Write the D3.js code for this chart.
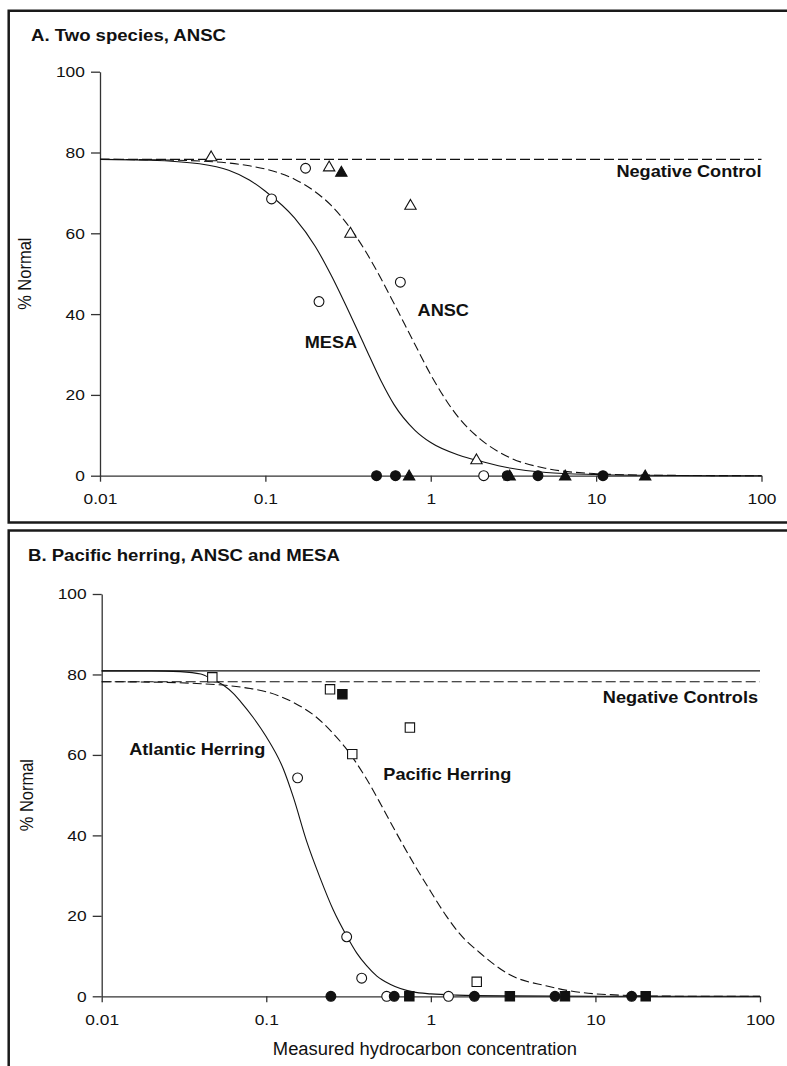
<!DOCTYPE html>
<html>
<head>
<meta charset="utf-8">
<script src="https://cdn.jsdelivr.net/npm/d3@7"></script>
<style>
  html, body { margin: 0; padding: 0; background: #fff; }
  svg { display: block; }
  text { font-family: "Liberation Sans", Arial, sans-serif; fill: #111; }
</style>
</head>
<body>
<svg id="chart" width="787" height="1066"></svg>
<script>
// ---- axis ticks ----
const xTickValues = [0.01, 0.1, 1, 10, 100];
const xTickLabels = ["0.01", "0.1", "1", "10", "100"];
const yTickValues = [0, 20, 40, 60, 80, 100];

// ---- Panel A: Two species, ANSC ----
// [concentration, % normal]
const aTriOpen   = [[0.047, 79.0], [0.243, 76.5], [0.327, 60.1], [0.754, 67.0], [1.89, 4.0]];
const aTriFilled = [[0.288, 75.2], [0.74, 0], [3.0, 0], [6.5, 0], [19.8, 0]];
const aCircOpen  = [[0.109, 68.5], [0.175, 76.1], [0.211, 43.1], [0.655, 47.9], [2.09, 0]];
const aCircFilled = [[0.47, 0], [0.612, 0], [2.9, 0], [4.45, 0], [11.0, 0]];
const aControl = 78.3;
// fitted response curves
const aMesaCurve = [[0.01, 78.3], [0.02, 78.1], [0.04, 77.2], [0.06, 75.6], [0.08, 73.2], [0.1, 70.4],
  [0.15, 63.8], [0.2, 56.8], [0.25, 49.6], [0.3, 43.0], [0.4, 32.0], [0.5, 23.5], [0.6, 17.6],
  [0.8, 11.3], [1.0, 8.2], [1.5, 5.0], [2, 3.6], [3, 1.9], [5, 0.8], [10, 0.3], [20, 0.1], [50, 0], [100, 0]];
const aAnscCurve = [[0.01, 78.3], [0.02, 78.2], [0.04, 77.9], [0.06, 77.4], [0.08, 76.7], [0.1, 75.9],
  [0.15, 73.4], [0.2, 70.3], [0.25, 66.9], [0.3, 63.2], [0.4, 55.8], [0.5, 48.8], [0.6, 42.6],
  [0.8, 32.6], [1.0, 25.0], [1.5, 14.0], [2, 9.0], [3, 4.5], [5, 1.8], [10, 0.5], [20, 0.15], [50, 0.03], [100, 0]];

// ---- Panel B: Pacific herring, ANSC and MESA ----
const bSqOpen   = [[0.047, 79.3], [0.244, 76.3], [0.333, 60.2], [0.746, 66.8], [1.90, 3.6]];
const bSqFilled = [[0.29, 75.1], [0.74, 0], [3.02, 0], [6.53, 0], [20.2, 0]];
const bCircOpen  = [[0.155, 54.3], [0.308, 14.8], [0.38, 4.5], [0.539, 0], [1.28, 0]];
const bCircFilled = [[0.247, 0], [0.599, 0], [1.84, 0], [5.68, 0], [16.6, 0]];
const bControlAtlantic = 80.9;
const bControlPacific = 78.2;
const bAtlanticCurve = [[0.01, 80.9], [0.02, 80.9], [0.03, 80.7], [0.04, 80.1], [0.047, 78.8], [0.055, 77.3],
  [0.063, 75.3], [0.07, 73.2], [0.0833, 69.3], [0.1, 64.5], [0.127, 56.5], [0.146, 49.5], [0.176, 38.5],
  [0.212, 29.5], [0.255, 21.5], [0.308, 15.0], [0.354, 10.8], [0.407, 7.6], [0.47, 5.0], [0.565, 3.0],
  [0.78, 1.1], [1.0, 0.6], [1.44, 0.3], [3, 0.1], [10, 0], [100, 0]];
const bPacificCurve = [[0.01, 78.2], [0.02, 78.1], [0.04, 77.7], [0.06, 77.2], [0.08, 76.5], [0.1, 75.7],
  [0.15, 72.8], [0.2, 69.5], [0.25, 65.7], [0.3, 62.0], [0.4, 54.5], [0.5, 47.5], [0.6, 41.5],
  [0.8, 32.5], [1.0, 26.0], [1.24, 20.0], [1.5, 15.5], [2, 10.7], [3, 5.4], [5, 2.6], [8, 1.0],
  [13, 0.35], [20, 0.1], [50, 0], [100, 0]];

const svg = d3.select("#chart");
const INK = "#111";

// panel frames (top, left, bottom edges)
function frame(top, bottom) {
  const g = svg.append("g").attr("fill", "none").attr("stroke", "#1a1a1a").attr("stroke-width", 2.5);
  g.append("path").attr("d", `M787,${top} H8.7 V${bottom}` + (bottom < 1066 ? ` H787` : ""));
}
frame(10.7, 522.5);
frame(530.5, 1070);

// text drawn slightly wide (page-horizontal), anchored at (x, y)
function wideText(g, x, y, str, size, sx, opts = {}) {
  const stretch = opts.rotate ? `rotate(-90) scale(1,${sx})` : `scale(${sx},1)`;
  return g.append("text")
    .attr("transform", `translate(${x},${y}) ${stretch}`)
    .attr("text-anchor", opts.anchor || "start")
    .attr("font-size", size)
    .attr("font-weight", opts.bold ? "bold" : null)
    .text(str);
}

function drawPanel(cfg) {
  const x = d3.scaleLog().domain([0.01, 100]).range([cfg.x0, cfg.x1]);
  const y = d3.scaleLinear().domain([0, 100]).range([cfg.y0, cfg.y1]);
  const g = svg.append("g");

  // title
  wideText(g, cfg.titleX, cfg.titleY, cfg.title, 17.2, 1.08, { bold: true });

  // y axis
  const yAxis = d3.axisLeft(y).tickValues(yTickValues).tickSize(9).tickPadding(4.5).tickSizeOuter(0);
  const ya = g.append("g").attr("transform", `translate(${cfg.x0},0)`).call(yAxis);
  // x axis
  const xAxis = d3.axisBottom(x).tickValues(xTickValues)
    .tickFormat((d, i) => xTickLabels[i]).tickSize(6).tickPadding(11.5).tickSizeOuter(0);
  const xa = g.append("g").attr("transform", `translate(0,${cfg.y0})`).call(xAxis);
  [ya, xa].forEach(a => {
    a.select(".domain").attr("stroke", "#333").attr("stroke-width", 1.3);
    a.selectAll(".tick line").attr("stroke", "#333").attr("stroke-width", 1.3);
    a.selectAll(".tick text").attr("font-size", 15.5)
      .attr("font-family", "'Liberation Sans', Arial, sans-serif").attr("fill", INK)
      .attr("transform", "scale(1.12,1)");
  });

  // y axis title
  wideText(g, cfg.yTitleX, (cfg.y0 + cfg.y1) / 2, "% Normal", 16.5, 1.12, { rotate: true, anchor: "middle" });

  if (cfg.xTitle) {
    wideText(g, (cfg.x0 + cfg.x1) / 2 - 6, cfg.xTitleY, cfg.xTitle, 18, 1.02, { anchor: "middle" });
  }

  const line = d3.line().x(d => x(d[0])).y(d => y(d[1])).curve(d3.curveMonotoneX);

  // control lines
  cfg.controls.forEach(c => {
    g.append("path").datum([[0.01, c.value], [100, c.value]]).attr("d", line)
      .attr("fill", "none").attr("stroke", INK).attr("stroke-width", 1.1)
      .attr("stroke-dasharray", c.dash ? "10,4" : null);
  });
  // response curves
  cfg.curves.forEach(c => {
    g.append("path").datum(c.data).attr("d", line)
      .attr("fill", "none").attr("stroke", INK).attr("stroke-width", 1.1)
      .attr("stroke-dasharray", c.dash ? "9,4" : null);
  });

  // markers
  const shapes = { circle: d3.symbolCircle, triangle: d3.symbolTriangle, square: d3.symbolSquare };
  const sizes = { circle: 76, triangle: 56, square: 88 };
  cfg.markers.forEach(m => {
    const sym = d3.symbol().type(shapes[m.shape]).size(sizes[m.shape]);
    const dy = m.shape === "triangle" ? 1 : 0;
    g.append("g").selectAll("path").data(m.data).join("path")
      .attr("transform", d => `translate(${x(d[0])},${y(d[1]) + dy})`)
      .attr("d", sym)
      .attr("fill", m.filled ? INK : "#fff")
      .attr("stroke", INK).attr("stroke-width", 1.1);
  });

  // annotations
  cfg.labels.forEach(l => {
    wideText(g, x(l.at[0]) + (l.dx || 0), y(l.at[1]), l.text, 16.5, 1.1,
      { bold: true, anchor: l.anchor || "start" });
  });
}

drawPanel({
  title: "A. Two species, ANSC", titleX: 31, titleY: 40.5,
  x0: 100, x1: 761.5, y0: 475.7, y1: 71.7, yTitleX: 31,
  controls: [{ value: aControl, dash: true }],
  curves: [{ data: aMesaCurve, dash: false }, { data: aAnscCurve, dash: true }],
  markers: [
    { shape: "circle", filled: true, data: aCircFilled },
    { shape: "circle", filled: false, data: aCircOpen },
    { shape: "triangle", filled: false, data: aTriOpen },
    { shape: "triangle", filled: true, data: aTriFilled }
  ],
  labels: [
    { text: "Negative Control", at: [100, 73.9], anchor: "end" },
    { text: "MESA", at: [0.173, 31.7] },
    { text: "ANSC", at: [0.832, 39.6] }
  ]
});

drawPanel({
  title: "B. Pacific herring, ANSC and MESA", titleX: 28, titleY: 560.7,
  x0: 101.7, x1: 760, y0: 996.3, y1: 594, yTitleX: 33,
  xTitle: "Measured hydrocarbon concentration", xTitleY: 1055,
  controls: [{ value: bControlAtlantic, dash: false }, { value: bControlPacific, dash: true }],
  curves: [{ data: bAtlanticCurve, dash: false }, { data: bPacificCurve, dash: true }],
  markers: [
    { shape: "circle", filled: false, data: bCircOpen },
    { shape: "circle", filled: true, data: bCircFilled },
    { shape: "square", filled: false, data: bSqOpen },
    { shape: "square", filled: true, data: bSqFilled }
  ],
  labels: [
    { text: "Negative Controls", at: [100, 73.0], anchor: "end", dx: -2 },
    { text: "Atlantic Herring", at: [0.0147, 60.0] },
    { text: "Pacific Herring", at: [0.514, 53.8] }
  ]
});
</script>
</body>
</html>
